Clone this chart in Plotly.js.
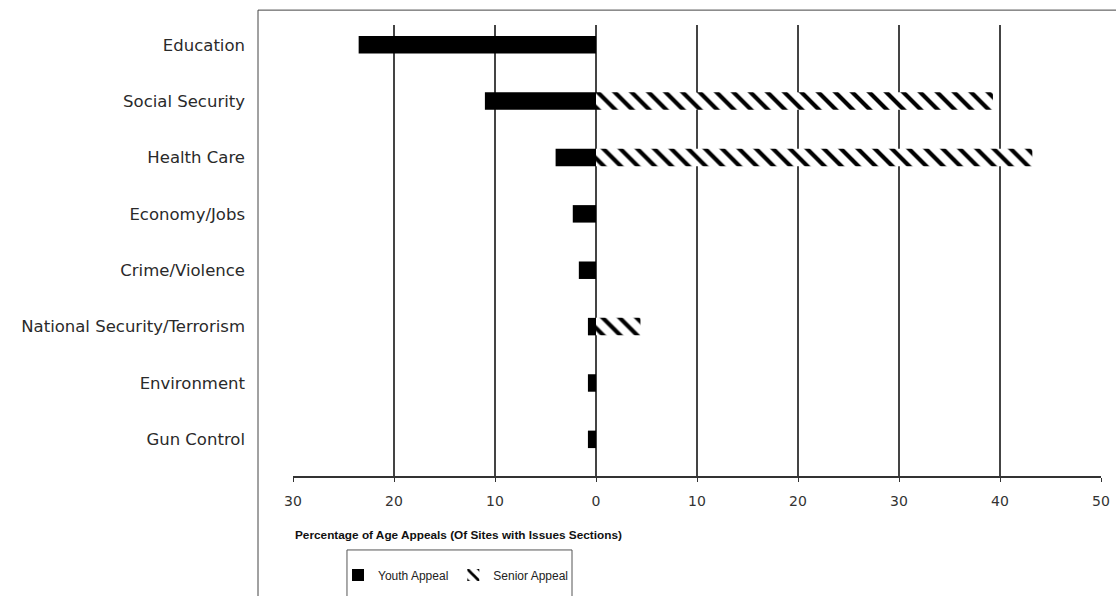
<!DOCTYPE html>
<html>
<head>
<meta charset="utf-8">
<script src="https://cdn.plot.ly/plotly-3.0.1.min.js"></script>
<style>html,body{margin:0;padding:0;background:#fff;}#chart{width:1116px;height:596px;}</style>
</head>
<body>
<div id="chart"></div>
<script>
const categories = ["Education","Social Security","Health Care","Economy/Jobs","Crime/Violence","National Security/Terrorism","Environment","Gun Control"];
const youthAppeal = [23.5, 11.0, 4.0, 2.3, 1.7, 0.8, 0.8, 0.8];
const seniorAppeal = [0, 39.3, 43.2, 0, 0, 4.4, 0, 0];
const tickValues = [-30,-20,-10,0,10,20,30,40,50];
const tickLabels = ["30","20","10","0","10","20","30","40","50"];
const gridValues = [-20,-10,0,10,20,30,40];
const xTitle = "Percentage of Age Appeals (Of Sites with Issues Sections)";

const youthNeg = youthAppeal.map(v => -v);

const traces = [
  {
    type: 'bar', orientation: 'h', name: 'Youth Appeal',
    y: categories, x: youthNeg, width: 0.31,
    marker: {color: '#000000', line: {width: 0}},
    hoverinfo: 'skip'
  },
  {
    type: 'bar', orientation: 'h', name: 'Senior Appeal',
    y: categories, x: seniorAppeal, width: 0.31,
    marker: {color: '#ffffff', line: {width: 0},
      pattern: {shape: '\\', fgcolor: '#000000', bgcolor: '#ffffff', size: 12, solidity: 0.35, fillmode: 'replace'}},
    hoverinfo: 'skip'
  }
];

const layout = {
  width: 1116, height: 596,
  margin: {l: 293, r: 15, t: 25, b: 120, autoexpand: false},
  paper_bgcolor: '#ffffff', plot_bgcolor: '#ffffff',
  font: {family: 'Liberation Sans, Arial, sans-serif', size: 13, color: '#222'},
  barmode: 'relative',
  showlegend: true,
  xaxis: {
    range: [-30, 50], automargin: false,
    tickmode: 'array', tickvals: tickValues, ticktext: tickLabels,
    showgrid: false, zeroline: false,
    showline: true, linecolor: '#333', linewidth: 1.5,
    ticks: 'outside', ticklen: 4, tickcolor: '#333',
    tickfont: {size: 14, color: '#333', family: 'DejaVu Sans, sans-serif'},
    ticklabelstandoff: 8,
    minor: {tickmode: 'array', tickvals: gridValues, showgrid: true, gridcolor: '#444', gridwidth: 1.2, ticks: ''},
    fixedrange: true
  },
  yaxis: {
    type: 'category', categoryorder: 'array', categoryarray: categories,
    range: [7.65, -0.35], automargin: false,
    showgrid: false, zeroline: false, showline: false,
    ticks: '', ticklabelstandoff: 47,
    tickfont: {size: 16.5, color: '#2a2a2a', family: 'DejaVu Sans, sans-serif'},
    fixedrange: true
  },
  legend: {
    orientation: 'h', x: 0.0557, xanchor: 'left', y: -0.2195, yanchor: 'middle',
    borderwidth: 0, bgcolor: 'rgba(0,0,0,0)', itemwidth: 30,
    font: {size: 12, color: '#222'}
  },
  annotations: [
    {text: '<b>' + xTitle + '</b>', xref: 'paper', yref: 'paper', x: 0, y: -0.131,
     xanchor: 'left', yanchor: 'middle', showarrow: false,
     font: {size: 11.8, color: '#111', family: 'Liberation Sans, Arial, sans-serif'}}
  ],
  shapes: [
    {type: 'rect', xref: 'paper', yref: 'paper', x0: -0.0433, x1: 1.03, y0: -0.3, y1: 1.033,
     line: {color: '#444', width: 1}, fillcolor: 'rgba(0,0,0,0)', layer: 'below'},
    {type: 'rect', xref: 'paper', yref: 'paper', x0: 0.0668, x1: 0.3453, y0: -0.3, y1: -0.164,
     line: {color: '#555', width: 1}, fillcolor: 'rgba(0,0,0,0)', layer: 'below'}
  ]
};

Plotly.newPlot('chart', traces, layout, {displayModeBar: false, staticPlot: true});
</script>
</body>
</html>
